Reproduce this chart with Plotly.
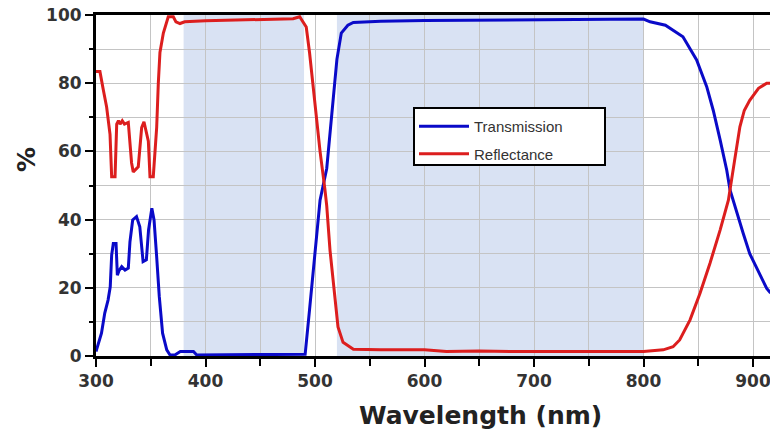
import plotly.graph_objects as go

# ---- data ----
wl_T = [300, 302, 305, 308, 311, 313, 314.3, 315.8, 318.3, 319.5, 321, 323.5, 326.5, 329.5,
        331, 333.5, 337, 340, 343, 346, 348, 351, 353, 355.4, 357.8, 360.8, 364.6, 367.6,
        372, 377, 389, 392, 400, 450, 488, 491, 495, 500, 504.6, 510.7, 513.7, 516.5, 520,
        524, 530, 535, 560, 600, 700, 800, 806, 820, 836, 848.5, 857.7, 863.7, 870, 876,
        879, 885, 891, 897, 903, 912.5, 916]
trans = [1.3, 3.8, 6.7, 12.6, 16.4, 20.3, 29.6, 33, 33, 23.7, 25, 26.2, 25.2, 25.8,
         33.5, 39.9, 40.9, 37.9, 27.7, 28.2, 37, 43.3, 39.9, 29.1, 17.4, 6.7, 1.8, 0.3,
         0.3, 1.3, 1.3, 0.3, 0.3, 0.3, 0.4, 0.5, 13.5, 31, 45.7, 55, 65, 75, 87,
         94.7, 97, 97.8, 98.2, 98.4, 98.7, 98.8, 98, 97, 93.6, 86.8, 79, 72, 63.3, 54.5,
         48.7, 42, 36, 30, 26.2, 19.8, 18.5]

wl_R = [300, 303.6, 306.7, 309.7, 312.8, 314.3, 317.4, 318.9, 320.5, 322, 324, 326, 329.5,
        332.5, 334, 338.6, 341.7, 343.8, 347.8, 349.3, 352.3, 355.4, 356.9, 358.4, 361.5,
        366, 370.6, 373, 376.7, 381, 400, 430, 450, 480, 486, 492, 495, 498, 501.5, 504.6,
        509, 510.7, 513.7, 518, 521, 525.6, 535, 560, 580, 600, 620, 650, 680, 700, 750,
        800, 818, 827, 833, 842.5, 851.6, 860.7, 870, 877.5, 883, 888, 892, 897, 905,
        912.5, 916]
refl = [83.4, 83.4, 78, 73, 65, 52.6, 52.6, 68, 69, 68, 69, 68, 68.5,
        56.6, 54, 55.5, 67, 68.7, 63, 52.6, 52.6, 67, 80, 89, 94.7,
        99.5, 99.5, 98, 97.5, 98, 98.3, 98.6, 98.8, 98.9, 99.5, 96.5, 89, 80, 70, 60,
        49, 44, 31, 18.5, 8.5, 4, 2, 1.8, 1.8, 1.8, 1.3, 1.5, 1.3, 1.3, 1.2,
        1.3, 1.8, 2.7, 4.7, 10.6, 18.4, 27.2, 37, 45.7, 57, 67.2, 72, 75, 78.5,
        80, 80]

shade_bands = [(380, 490), (520, 800)]
series_names = ["Transmission", "Reflectance"]

# plot area in pixels: left 96, right 770, top 15, bottom 356
PW, PH = 674, 341
def px_x(p):
    return (p - 96) / PW
def px_y(p):
    return (356 - p) / PH

fig = go.Figure()
fig.add_trace(go.Scatter(x=wl_T, y=trans, mode="lines", name=series_names[0],
                         legendgroup="t", line=dict(color="#0a0ac8", width=3)))
fig.add_trace(go.Scatter(x=wl_R, y=refl, mode="lines", name=series_names[1],
                         legendgroup="r", line=dict(color="#dc1e1e", width=3)))

for a, b in shade_bands:
    fig.add_shape(type="rect", xref="x", yref="y", x0=a, x1=b, y0=0, y1=100,
                  fillcolor="#d9e2f3", line_width=0, layer="below")

# legend frame (drawn under the legend text)
fig.add_shape(type="rect", xref="paper", yref="paper",
              x0=px_x(414), x1=px_x(605), y0=px_y(165), y1=px_y(108),
              fillcolor="white", line=dict(color="black", width=2), layer="above")

tickfont = dict(family="DejaVu Sans", size=17, color="#333333", weight="bold")
grid = "#c4c4c4"

fig.update_xaxes(range=[300, 915.5], tick0=300, dtick=100, ticks="outside", ticklen=8,
                 tickwidth=2, tickcolor="black", showline=True, linewidth=3,
                 linecolor="black", mirror=True, showgrid=True, gridcolor=grid,
                 gridwidth=1, zeroline=False, tickfont=tickfont, ticklabeloverflow="allow",
                 minor=dict(dtick=50, tick0=300, ticks="outside", ticklen=7, tickwidth=2,
                            tickcolor="black", showgrid=True, gridcolor=grid, gridwidth=1))
fig.update_yaxes(range=[0, 100], tick0=0, dtick=20, ticks="outside", ticklen=8,
                 tickwidth=2, tickcolor="black", showline=True, linewidth=3,
                 linecolor="black", showgrid=True, gridcolor=grid, gridwidth=1,
                 zeroline=False, tickfont=tickfont,
                 minor=dict(dtick=10, tick0=0, ticks="outside", ticklen=4, tickwidth=2,
                            tickcolor="black", showgrid=True, gridcolor=grid, gridwidth=1))

fig.add_annotation(text="Wavelength (nm)", xref="paper", yref="paper",
                   x=px_x(480), y=px_y(415), xanchor="center",
                   yanchor="middle", showarrow=False,
                   font=dict(family="DejaVu Sans", size=25, color="#222222", weight="bold"))
fig.add_annotation(text="%", xref="paper", yref="paper",
                   x=px_x(27), y=px_y(160), xanchor="center",
                   yanchor="middle", showarrow=False, textangle=-90,
                   font=dict(family="DejaVu Sans", size=25, color="#222222", weight="bold"))

fig.update_layout(
    width=770, height=436,
    margin=dict(l=96, r=0, t=15, b=80),
    paper_bgcolor="white", plot_bgcolor="white",
    showlegend=True,
    legend=dict(x=px_x(414), y=px_y(110), xanchor="left", yanchor="top",
                bgcolor="rgba(0,0,0,0)", borderwidth=0,
                font=dict(family="Liberation Sans", size=15, color="#333333"),
                itemwidth=50, tracegroupgap=5),
)

fig.write_html("out.html")
